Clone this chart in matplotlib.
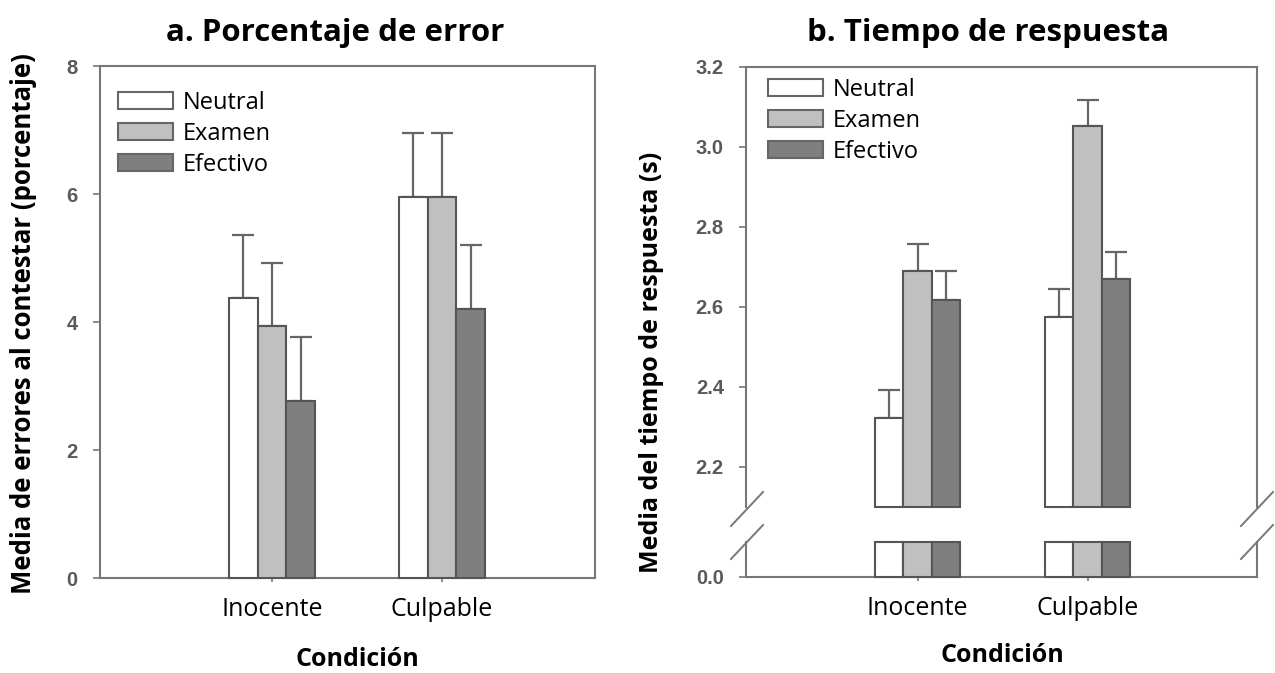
#!/usr/bin/env python3
"""Two panel grouped bar chart: error rate and response time (broken axis)."""

import matplotlib
matplotlib.use("Agg")
import matplotlib.pyplot as plt
import numpy as np
from matplotlib.lines import Line2D
from matplotlib.patches import Patch

# ── Data ──────────────────────────────────────────────────────────────────────

conditions = ["Inocente", "Culpable"]
series = ["Neutral", "Examen", "Efectivo"]

error_mean = {
    "Neutral": [4.37, 5.95],
    "Examen": [3.93, 5.96],
    "Efectivo": [2.77, 4.20],
}
error_sem = {
    "Neutral": [0.99, 1.00],
    "Examen": [0.99, 0.99],
    "Efectivo": [1.00, 1.01],
}

rt_mean = {
    "Neutral": [2.322, 2.576],
    "Examen": [2.690, 3.052],
    "Efectivo": [2.618, 2.669],
}
rt_sem = {
    "Neutral": [0.070, 0.069],
    "Examen": [0.068, 0.066],
    "Efectivo": [0.071, 0.069],
}

err_yticks = [0, 2, 4, 6, 8]
rt_yticks = [2.2, 2.4, 2.6, 2.8, 3.0, 3.2]

# ── Style ─────────────────────────────────────────────────────────────────────

COLORS = {"Neutral": "#ffffff", "Examen": "#c0c0c0", "Efectivo": "#7f7f7f"}
EDGE = "#555555"
AXC = "#777777"
TEXT_FONT = ["Open Sans", "DejaVu Sans"]
TICK_FONT = ["Liberation Sans", "DejaVu Sans"]

W, H = 1275, 673
BAR_W = 0.168
BREAK_HI = 2.1      # bottom of upper segment
BREAK_STUB = 0.085  # height of lower segment

xpos = np.arange(1, len(conditions) + 1)


def style_ticklabels(ax):
    for lab in ax.get_yticklabels():
        lab.set_family(TICK_FONT)
        lab.set_weight("bold")
    for lab in ax.get_xticklabels():
        lab.set_family(TEXT_FONT)


def style_axes(ax):
    for s in ax.spines.values():
        s.set_color(AXC)
        s.set_linewidth(1.5)
    ax.tick_params(axis="y", direction="out", length=5, width=1.2, color=AXC,
                   labelsize=14.5, labelcolor="#5a5a5a", pad=11)
    ax.tick_params(axis="x", direction="out", length=3, width=1.2, color=AXC,
                   labelsize=18, pad=11)
    style_ticklabels(ax)


def draw_bars(ax, means, sems, bottom=0.0, with_err=True):
    for i, name in enumerate(series):
        xs = xpos + (i - 1) * BAR_W
        vals = np.array(means[name])
        ax.bar(xs, vals - bottom, BAR_W, bottom=bottom, color=COLORS[name],
               edgecolor=EDGE, linewidth=1.5, zorder=3, clip_on=False)
        if with_err:
            ax.errorbar(xs, vals, yerr=[np.zeros_like(vals), sems[name]],
                        fmt="none", ecolor="#666666", elinewidth=1.6,
                        capsize=8, capthick=1.6, zorder=2)


def add_legend(ax, anchor):
    handles = [Patch(facecolor=COLORS[s], edgecolor="#666666", linewidth=1.5)
               for s in series]
    ax.legend(handles, series, loc="upper left", bbox_to_anchor=anchor,
              frameon=False, prop={"family": TEXT_FONT, "size": 17},
              handlelength=2.33, handleheight=0.72, handletextpad=0.42,
              labelspacing=0.3, borderaxespad=0, borderpad=0)


fig = plt.figure(figsize=(W / 100, H / 100), dpi=100)

# ── Panel a ───────────────────────────────────────────────────────────────────

ax1 = fig.add_axes([100 / W, 1 - 578 / H, 495 / W, 512 / H])
draw_bars(ax1, error_mean, error_sem)
ax1.set_ylim(0, 8)
ax1.set_xlim(-0.012, 2.9)
ax1.set_yticks(err_yticks)
ax1.set_yticklabels([str(t) for t in err_yticks])
ax1.set_xticks(xpos)
ax1.set_xticklabels(conditions)
style_axes(ax1)
add_legend(ax1, (0.036, 0.952))

# ── Panel b (broken y axis) ───────────────────────────────────────────────────

ax_top = fig.add_axes([746 / W, 1 - 507 / H, 511 / W, 440 / H])
ax_lo = fig.add_axes([746 / W, 1 - 577 / H, 511 / W, 35 / H])

draw_bars(ax_top, rt_mean, rt_sem, bottom=BREAK_HI)
stub = {s: [BREAK_STUB] * len(conditions) for s in series}
draw_bars(ax_lo, stub, None, with_err=False)

ax_top.set_ylim(BREAK_HI, 3.2)
ax_top.set_yticks(rt_yticks)
ax_top.set_yticklabels([f"{t:.1f}" for t in rt_yticks])
ax_top.set_xticks([])

ax_lo.set_ylim(0, BREAK_STUB)
ax_lo.set_yticks([0])
ax_lo.set_yticklabels(["0.0"])
ax_lo.set_xticks(xpos)
ax_lo.set_xticklabels(conditions)

for ax in (ax_top, ax_lo):
    ax.set_xlim(-0.009, 2.997)
    style_axes(ax)
ax_top.spines["bottom"].set_visible(False)
ax_lo.spines["top"].set_visible(False)

add_legend(ax_top, (0.043, 0.975))

# break marks on both spines
for x0 in (731, 1241):
    for y0 in (526, 559):
        fig.add_artist(Line2D([x0 / W, (x0 + 32) / W],
                              [1 - y0 / H, 1 - (y0 - 34) / H],
                              color=AXC, linewidth=1.4))

# ── Titles and labels ─────────────────────────────────────────────────────────

fig.text(335 / W, 1 - 33 / H, "a. Porcentaje de error", ha="center",
         va="center", family=TEXT_FONT, weight="bold", fontsize=22.5)
fig.text(988 / W, 1 - 33 / H, "b. Tiempo de respuesta", ha="center",
         va="center", family=TEXT_FONT, weight="bold", fontsize=22.5)
fig.text(24 / W, 1 - 324 / H, "Media de errores al contestar (porcentaje)",
         rotation=90, ha="center", va="center", family=TEXT_FONT,
         weight="bold", fontsize=18.5)
fig.text(652 / W, 1 - 362 / H, "Media del tiempo de respuesta (s)",
         rotation=90, ha="center", va="center", family=TEXT_FONT,
         weight="bold", fontsize=18)
fig.text(357 / W, 1 - 660 / H, "Condición", ha="center", va="center",
         family=TEXT_FONT, weight="bold", fontsize=18)
fig.text(1002 / W, 1 - 655 / H, "Condición", ha="center", va="center",
         family=TEXT_FONT, weight="bold", fontsize=18)

fig.savefig("out.png", dpi=100)
